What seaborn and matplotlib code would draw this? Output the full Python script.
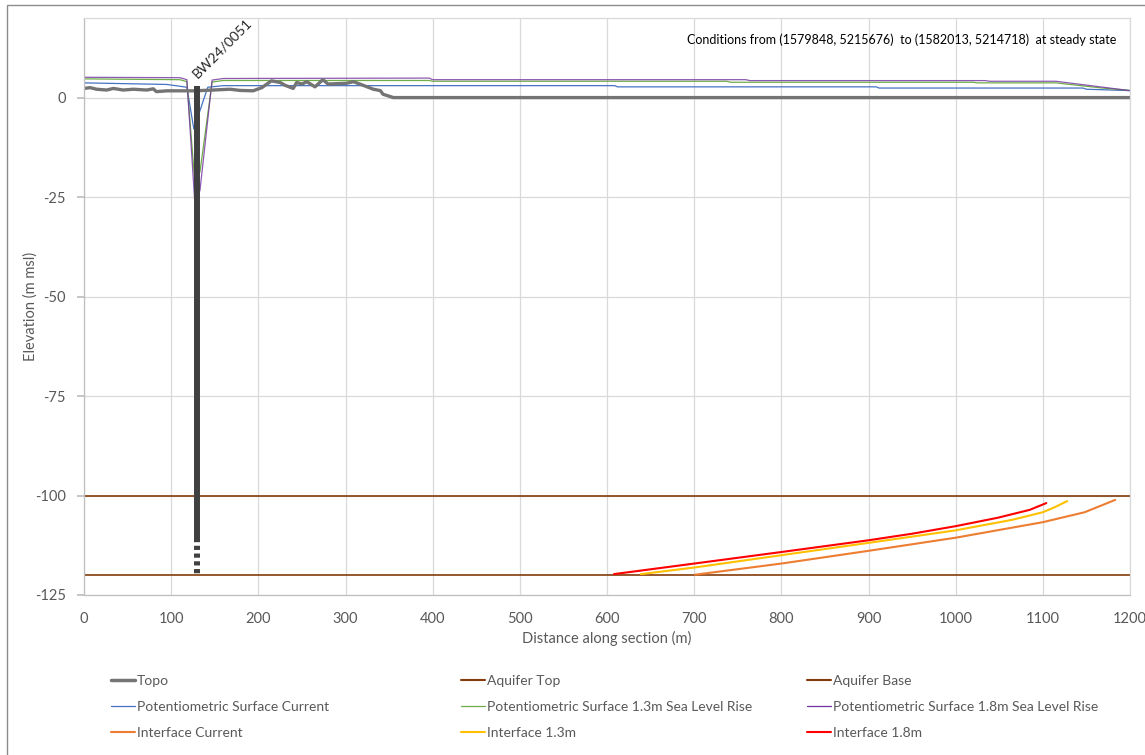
import matplotlib
matplotlib.use("Agg")
import matplotlib.pyplot as plt
from matplotlib.lines import Line2D
from matplotlib.patches import Rectangle
import seaborn as sns

# ---- section data (distance along section in m, elevation in m msl) ----
topo_x = [0, 7, 14.5, 26, 33.7, 45, 56.6, 72, 79.5, 83, 95, 110, 127, 148, 167.5,
          179, 194, 204, 215, 225, 230.6, 240, 244, 250, 255.5, 265, 274, 280,
          301.5, 309, 316.5, 332, 340, 343, 355, 1200]
topo_y = [2.3, 2.5, 2.1, 1.9, 2.3, 1.9, 2.1, 1.9, 2.2, 1.5, 1.7, 1.7, 1.7, 1.9, 2.1,
          1.8, 1.7, 2.5, 4.2, 3.8, 3.1, 2.3, 3.8, 3.4, 4.0, 2.7, 4.5, 3.4,
          3.6, 4.0, 3.4, 2.1, 1.75, 0.84, 0.0, 0.0]

aquifer_x = [0, 1200]
aquifer_top = [-100, -100]
aquifer_base = [-120, -120]

ps_cur_x = [0, 95, 118, 126, 142, 160, 609, 612, 909, 912, 1146, 1150, 1200]
ps_cur_y = [3.7, 3.3, 2.6, -7.9, 2.6, 3.0, 3.0, 2.7, 2.7, 2.4, 2.4, 2.1, 1.75]

ps_13_x = [0, 110, 118, 127, 133, 147, 160, 396, 400, 737, 742, 1020, 1025, 1115, 1168, 1200]
ps_13_y = [4.7, 4.5, 4.0, -20.8, -18.7, 3.9, 4.3, 4.3, 4.1, 4.1, 3.85, 3.85, 3.7, 3.7, 2.4, 1.8]

ps_18_x = [0, 110, 118, 127, 133, 147, 160, 396, 400, 759, 764, 1034, 1039, 1115, 1200]
ps_18_y = [5.1, 5.0, 4.5, -25.9, -23.4, 4.4, 4.8, 4.9, 4.5, 4.5, 4.27, 4.27, 4.1, 4.1, 1.75]

int_cur_x = [701, 800, 900, 1000, 1100, 1148, 1183]
int_cur_y = [-119.9, -117.1, -113.9, -110.6, -106.7, -104.2, -101.1]

int_13_x = [639, 700, 800, 900, 1000, 1065, 1100, 1114, 1128]
int_13_y = [-119.75, -118.1, -115.0, -111.9, -108.75, -106.1, -104.2, -102.9, -101.4]

int_18_x = [608, 700, 800, 900, 950, 1000, 1048, 1085, 1104]
int_18_y = [-119.75, -117.1, -114.2, -111.25, -109.6, -107.7, -105.6, -103.6, -101.9]

# bore BW24/0051: casing top, screen top, bottom
well_name = "BW24/0051"
well_x = [130, 130]
well_casing = [2.8, -110.7]
well_screen = [-110.7, -120]

x_ticks = list(range(0, 1201, 100))
y_ticks = list(range(-125, 1, 25))

title_text = "Conditions from (1579848, 5215676)  to (1582013, 5214718)  at steady state"

# ---- styling ----
sns.set_theme(style="white")
plt.rcParams["font.family"] = ["Lato", "DejaVu Sans"]
plt.rcParams["axes.unicode_minus"] = False
grey_txt = "#595959"
grid_col = "#d9d9d9"

c_topo = "#747474"
c_aq = "#843c0c"
c_ps_cur = "#4472c4"
c_ps_13 = "#70ad47"
c_ps_18 = "#7030a0"
c_int_cur = "#ed7d31"
c_int_13 = "#ffc000"
c_int_18 = "#ff0000"

W, H = 1145, 755
fig = plt.figure(figsize=(W / 100, H / 100), dpi=100)
fig.patch.set_facecolor("white")
fig.patches.append(Rectangle((7 / W, -0.01), 1.1, (H - 5) / H + 0.01, transform=fig.transFigure,
                             fill=False, edgecolor="#8c8c8c", lw=1.0))

ax = fig.add_axes([84 / W, (H - 595) / H, (1130 - 84) / W, (595 - 18) / H])

common = dict(ax=ax, sort=False, estimator=None, legend=False)
sns.lineplot(x=ps_cur_x, y=ps_cur_y, color=c_ps_cur, lw=0.9, **common)
sns.lineplot(x=ps_13_x, y=ps_13_y, color=c_ps_13, lw=0.9, **common)
sns.lineplot(x=ps_18_x, y=ps_18_y, color=c_ps_18, lw=0.9, alpha=0.8, **common)
sns.lineplot(x=topo_x, y=topo_y, color=c_topo, lw=2.4, **common)
sns.lineplot(x=aquifer_x, y=aquifer_top, color=c_aq, lw=1.2, **common)
sns.lineplot(x=aquifer_x, y=aquifer_base, color=c_aq, lw=1.2, **common)
sns.lineplot(x=int_cur_x, y=int_cur_y, color=c_int_cur, lw=1.5, **common)
sns.lineplot(x=int_13_x, y=int_13_y, color=c_int_13, lw=1.5, **common)
sns.lineplot(x=int_18_x, y=int_18_y, color=c_int_18, lw=1.5, **common)

# bore casing and screened interval
ax.plot(well_x, well_casing, color="#404040", lw=4.3, solid_capstyle="butt", zorder=5)
ax.plot(well_x, well_screen, color="#404040", lw=4.3, linestyle=(0, (0.7, 0.6)),
        dash_capstyle="butt", zorder=5)
ax.text(well_x[0] + 2, well_casing[0] + 1.5, well_name, rotation=45, rotation_mode="anchor",
        ha="left", va="bottom", fontsize=10, color="#262626")

ax.set_xlim(0, 1200)
ax.set_ylim(-125, 20)
ax.set_xticks(x_ticks)
ax.set_yticks(y_ticks)
ax.grid(True, color=grid_col, lw=0.9)
ax.set_axisbelow(True)
for side in ["top", "right"]:
    ax.spines[side].set_color(grid_col)
    ax.spines[side].set_linewidth(0.9)
for side in ["left", "bottom"]:
    ax.spines[side].set_color("#bfbfbf")
    ax.spines[side].set_linewidth(0.9)
ax.tick_params(axis="y", which="both", left=True, length=5, color="#bfbfbf",
               labelsize=10.5, labelcolor=grey_txt, pad=8)
ax.tick_params(axis="x", which="both", bottom=False, labelsize=10.5, labelcolor=grey_txt, pad=6)
ax.set_xlabel("Distance along section (m)", fontsize=10.5, color=grey_txt, labelpad=4)
ax.set_ylabel("Elevation (m msl)", fontsize=10.5, color=grey_txt)
ax.yaxis.set_label_coords((38 - 84) / (1130 - 84), 0.5)

ax.text(0.987, 0.962, title_text, transform=ax.transAxes, ha="right", va="center",
        fontsize=9, color="black")

# legend laid out in three columns beneath the plot
columns = [
    [("Topo", c_topo, 2.5), ("Potentiometric Surface Current", c_ps_cur, 0.9),
     ("Interface Current", c_int_cur, 1.5)],
    [("Aquifer Top", c_aq, 1.5), ("Potentiometric Surface 1.3m Sea Level Rise", c_ps_13, 0.9),
     ("Interface 1.3m", c_int_13, 1.5)],
    [("Aquifer Base", c_aq, 1.5), ("Potentiometric Surface 1.8m Sea Level Rise", c_ps_18, 0.9),
     ("Interface 1.8m", c_int_18, 1.5)],
]
col_left = [111, 461, 807]
for x0, entries in zip(col_left, columns):
    handles = [Line2D([], [], color=c, lw=lw) for _, c, lw in entries]
    labels = [t for t, _, _ in entries]
    fig.legend(handles, labels, loc="upper left", bbox_to_anchor=(x0 / W, 1 - 675 / H),
               frameon=False, fontsize=10, labelcolor=grey_txt, handlelength=1.75,
               handletextpad=0.1, labelspacing=1.02, borderaxespad=0, borderpad=0)

fig.savefig("out.png", dpi=100, facecolor="white")
